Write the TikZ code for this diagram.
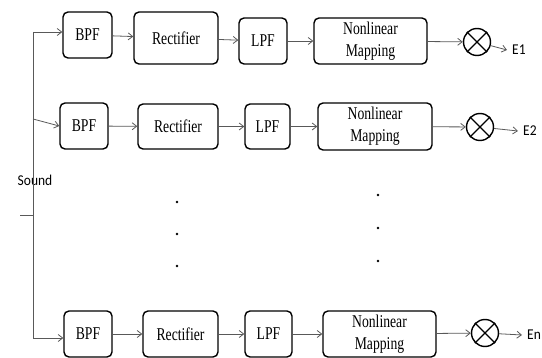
\documentclass[tikz,border=0pt]{standalone}
\usepackage{fontspec}
\setmainfont{Liberation Serif}
\newfontfamily\boxfont[FakeStretch=0.76]{Liberation Serif}
\newfontfamily\lblfont[FakeStretch=0.9]{Carlito}
\usetikzlibrary{arrows.meta}

\begin{document}
\begin{tikzpicture}[x=1pt,y=-1pt,>={Straight Barb[length=4.5pt,width=7pt]},
    every node/.style={inner sep=0pt},
    blk/.style={draw, line width=1.4pt, rounded corners=5pt, font=\boxfont\fontsize{18}{22}\selectfont, align=center},
    mix/.style={draw, circle, line width=1.4pt, minimum size=27pt},
    wire/.style={draw=black!65, line width=0.8pt},
    lbl/.style={font=\lblfont\fontsize{15}{17}\selectfont, inner xsep=5pt}]
    \useasboundingbox (0,0) rectangle (542,358);

    % Kanal 1
    \node[blk, minimum width=49pt, minimum height=46pt] (bpf1) at (87.5,35) {BPF};
    \node[blk, minimum width=84pt, minimum height=52pt] (rec1) at (176,38) {Rectifier};
    \node[blk, minimum width=48pt, minimum height=46pt] (lpf1) at (263,41) {LPF};
    \node[blk, minimum width=113pt, minimum height=46pt] (nlm1) at (370.5,41) {Nonlinear\\Mapping};
    \node[mix] (mx1) at (477,42) {};
    \node[lbl, anchor=west] (e1) at (507,50) {E1};

    % Kanal 2
    \node[blk, minimum width=48pt, minimum height=46pt] (bpf2) at (84,126) {BPF};
    \node[blk, minimum width=80pt, minimum height=45pt] (rec2) at (178,126.5) {Rectifier};
    \node[blk, minimum width=45pt, minimum height=45pt] (lpf2) at (267.5,126.5) {LPF};
    \node[blk, minimum width=114pt, minimum height=47pt] (nlm2) at (375,126.5) {Nonlinear\\Mapping};
    \node[mix] (mx2) at (480,127) {};
    \node[lbl, anchor=west] (e2) at (518,131) {E2};

    % Kanal n
    \node[blk, minimum width=48pt, minimum height=46pt] (bpf3) at (88,334) {BPF};
    \node[blk, minimum width=75pt, minimum height=46pt] (rec3) at (180.5,334) {Rectifier};
    \node[blk, minimum width=47pt, minimum height=46pt] (lpf3) at (268.5,334) {LPF};
    \node[blk, minimum width=113pt, minimum height=46pt] (nlm3) at (379.5,334) {Nonlinear\\Mapping};
    \node[mix] (mx3) at (485,333) {};
    \node[lbl, anchor=west] (en) at (522,335) {En};

    % Giriş
    \node[lbl] (snd) at (35,180) {Sound};
    \coordinate (t1) at (33,32);
    \coordinate (t2) at (33,119);
    \coordinate (t3) at (33,338);
    \coordinate (stub) at (20,215);

    % Bağlantılar
    \draw[wire] (t1) -- (t3);
    \draw[wire] (stub) -- (stub -| t1);
    \draw[wire,->] (t1) -- (bpf1.west |- t1);
    \draw[wire,->] (t2) -- (bpf2.west);
    \draw[wire,->] (t3) -- (bpf3.west |- t3);
    \foreach \i/\e in {1/e1,2/e2,3/en} {
        \draw[wire,->] (bpf\i) -- (rec\i);
        \draw[wire,->] (rec\i) -- (lpf\i);
        \draw[wire,->] (lpf\i) -- (nlm\i);
        \draw[wire,->] (nlm\i) -- (mx\i);
        \draw[wire,->] (mx\i) -- (\e.west);
        \draw[line width=1.4pt] (mx\i.north west) -- (mx\i.south east);
        \draw[line width=1.4pt] (mx\i.north east) -- (mx\i.south west);
    }

    % Noktalar
    \foreach \y in {202,234,266} \fill (177,\y) circle (1.4);
    \foreach \y in {195,228,261} \fill (378,\y) circle (1.4);
\end{tikzpicture}
\end{document}
